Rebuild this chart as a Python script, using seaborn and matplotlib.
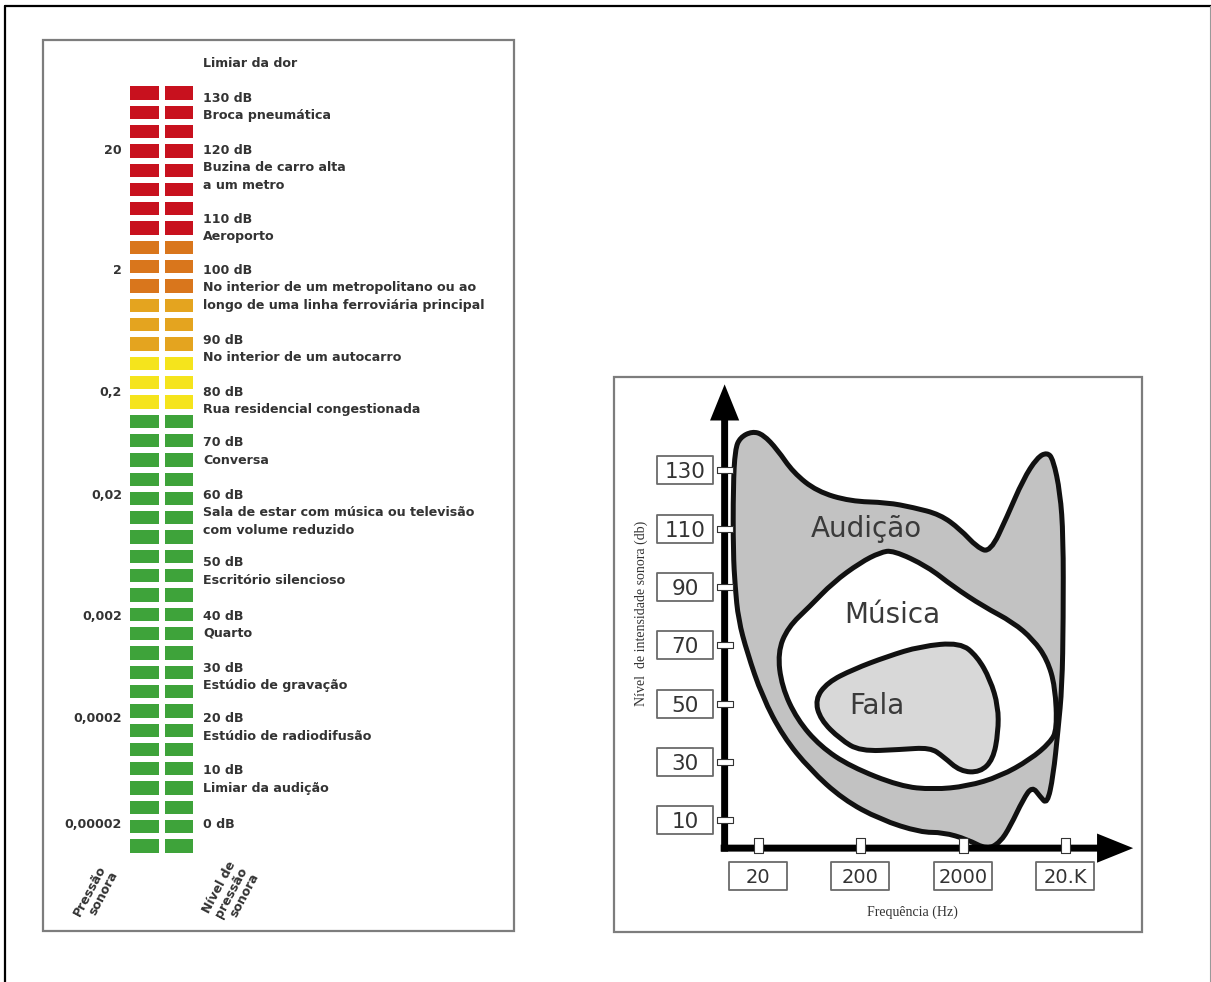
import numpy as np
import pandas as pd
import matplotlib
matplotlib.use("Agg")
import matplotlib.pyplot as plt
import seaborn as sns
from matplotlib.colors import ListedColormap
from matplotlib.patches import Rectangle, PathPatch
from matplotlib.path import Path

# ---------------- data: sound level meter (left) ----------------
meter_levels = ["red"] * 8 + ["orange"] * 3 + ["amber"] * 3 + ["yellow"] * 3 + ["green"] * 23
level_order = ["red", "orange", "amber", "yellow", "green"]
level_colors = ["#c8111e", "#d9761c", "#e4a41f", "#f5e41c", "#3ea33a"]

db_labels = ["130 dB", "120 dB", "110 dB", "100 dB", "90 dB", "80 dB", "70 dB",
             "60 dB", "50 dB", "40 dB", "30 dB", "20 dB", "10 dB", "0 dB"]
db_descriptions = [
    ["Broca pneumática"],
    ["Buzina de carro alta", "a um metro"],
    ["Aeroporto"],
    ["No interior de um metropolitano ou ao", "longo de uma linha ferroviária principal"],
    ["No interior de um autocarro"],
    ["Rua residencial congestionada"],
    ["Conversa"],
    ["Sala de estar com música ou televisão", "com volume reduzido"],
    ["Escritório silencioso"],
    ["Quarto"],
    ["Estúdio de gravação"],
    ["Estúdio de radiodifusão"],
    ["Limiar da audição"],
    [],
]
pressure_labels = ["20", "2", "0,2", "0,02", "0,002", "0,0002", "0,00002"]
pressure_for_db = ["120 dB", "100 dB", "80 dB", "60 dB", "40 dB", "20 dB", "0 dB"]

# ---------------- data: hearing areas (right) ----------------
audicao_hz = [17.5, 22.4, 30.7, 44, 75, 159, 365, 655, 1200, 1890, 2770, 3710, 5430, 7780,
              10670, 13360, 15300, 17900, 19200, 19200, 18700, 17100, 15300, 13360, 11400,
              9540, 7780, 5810, 4640, 3460, 2210, 1290, 770, 312, 135, 64, 35, 21.9, 15.6, 12.8,
              11.9, 11.4, 11.4, 11.9, 13.3]
audicao_db = [143.4, 142.3, 137.2, 129.3, 122.8, 119.4, 119.0, 117.3, 114.9, 109.8, 103.6,
              101.9, 114.2, 126.9, 134.4, 136.2, 133.8, 122.4, 107.4, 78.9, 55.9, 41.2, 25.1,
              15.5, 18.2, 21.7, 17.2, 7.9, 2.5, 0.0, 3.5, 5.9, 5.9, 10.3, 17.2, 27.5, 38.8, 52.5,
              67.6, 78.9, 90.2, 101.9, 124.5, 137.2, 141.3]
musica_hz = [418, 900, 1610, 3170, 6220, 9750, 13360, 16000, 16700, 14300, 9120, 4640, 2210,
             1030, 489, 159, 81, 48, 34, 31, 39, 64, 108, 199, 312]
musica_db = [102.6, 97.1, 90.2, 83.4, 77.9, 72.0, 65.2, 55.9, 41.2, 36.7, 30.9, 25.1, 21.7,
             20.6, 21.7, 28.5, 35.4, 44.6, 55.9, 67.6, 76.2, 83.4, 91.6, 98.4, 101.9]
fala_hz = [95, 170, 365, 770, 1890, 2770, 3710, 4440, 4440, 3960, 2960, 1890, 1290, 960, 489,
           199, 127, 81, 72]
fala_db = [57.3, 61.8, 66.2, 69.7, 71.0, 66.2, 58.3, 49.1, 40.2, 30.9, 26.5, 26.8, 31.9, 35.0,
           34.3, 33.7, 37.8, 44.6, 51.5]

y_ticks = [10, 30, 50, 70, 90, 110, 130]
x_ticks = [20, 200, 2000, 20000]
x_ticklabels = ["20", "200", "2000", "20.K"]

# ---------------- figure ----------------
sns.set_theme(style="white")
plt.rcParams["font.family"] = ["DejaVu Sans"]

W, H = 1211, 982
fig = plt.figure(figsize=(W / 100, H / 100), dpi=100)


def px_axes(x0, y0, x1, y1):
    return fig.add_axes([x0 / W, 1 - y1 / H, (x1 - x0) / W, (y1 - y0) / H])


def smooth_outline(ax, xs, ys, **kw):
    """Closed outline drawn as quadratic Bezier path using the points as control points."""
    n = len(xs)
    lx = np.log10(np.asarray(xs, float))
    ys = np.asarray(ys, float)
    mids = [(10 ** ((lx[i] + lx[(i + 1) % n]) / 2), (ys[i] + ys[(i + 1) % n]) / 2)
            for i in range(n)]
    verts = [mids[-1]]
    codes = [Path.MOVETO]
    for i in range(n):
        verts += [(xs[i], ys[i]), mids[i]]
        codes += [Path.CURVE3, Path.CURVE3]
    verts.append(mids[-1])
    codes.append(Path.CLOSEPOLY)
    patch = PathPatch(Path(verts, codes), transform=ax.transData, **kw)
    ax.add_patch(patch)
    return patch


bg = fig.add_axes([0, 0, 1, 1], zorder=0)
bg.set_xlim(0, W)
bg.set_ylim(H, 0)
bg.axis("off")

# outer frame
bg.plot([5, 5], [6, H], color="black", lw=1.6)
bg.plot([5, W], [6, 6], color="black", lw=1.6)
bg.plot([1209.5, 1209.5], [6, H], color="#999999", lw=0.8)

# panel frames
bg.add_patch(Rectangle((43, 40), 471, 891, fill=False, ec="#7d7d7d", lw=1.6))
bg.add_patch(Rectangle((614, 377), 528, 555, fill=False, ec="#7d7d7d", lw=1.6))

# ---------------- left: meter via heatmap ----------------
codes_arr = np.array([level_order.index(c) for c in meter_levels])
meter = pd.DataFrame({"esq": codes_arr, "dir": codes_arr})
axm = px_axes(127.25, 83.3, 195.75, 855.7)
axm.set_zorder(1)
sns.heatmap(meter, ax=axm, cmap=ListedColormap(level_colors), vmin=-0.5, vmax=4.5,
            cbar=False, linewidths=4, linecolor="white", xticklabels=False, yticklabels=False)

label_y_px = [98, 150, 219, 270, 340, 392, 443, 495, 563, 616, 668, 719, 771, 824]
tkw = dict(fontsize=9.1, fontweight="bold", color="#333333", va="center")
bg.text(203, 63, "Limiar da dor", ha="left", **tkw)
for lab, desc, y in zip(db_labels, db_descriptions, label_y_px):
    bg.text(203, y, lab, ha="left", **tkw)
    for k, line in enumerate(desc):
        bg.text(203, y + 17.5 * (k + 1), line, ha="left", **tkw)
for p, d in zip(pressure_labels, pressure_for_db):
    y = label_y_px[db_labels.index(d)]
    bg.text(122, y, p, ha="right", **tkw)

bg.text(96, 894, "Pressão\nsonora", rotation=62, ha="center", va="center",
        multialignment="right", fontsize=9, fontweight="bold", color="#333333", linespacing=1.0)
bg.text(231, 893, "Nível de\npressão\nsonora", rotation=62, ha="center", va="center",
        multialignment="right", fontsize=9, fontweight="bold", color="#333333", linespacing=1.0)

# ---------------- right: hearing chart ----------------
axc = px_axes(700, 380, 1140, 870)
axc.set_zorder(1)
axc.set_xscale("log")
axc.set_xlim(5.4, 108000)
axc.set_ylim(-7, 161)
axc.axis("off")

smooth_outline(axc, audicao_hz, audicao_db, facecolor="#c2c2c2", edgecolor="#111111",
               lw=3.6, joinstyle="round", zorder=2)
smooth_outline(axc, musica_hz, musica_db, facecolor="white", edgecolor="#111111",
               lw=3.6, joinstyle="round", zorder=3)
smooth_outline(axc, fala_hz, fala_db, facecolor="#d8d8d8", edgecolor="#111111",
               lw=3.6, joinstyle="round", zorder=4)

# axes arrows
ax_x0, ax_y0 = 9.4, 0.5
axc.annotate("", xy=(ax_x0, 159.5), xytext=(ax_x0, -0.7),
             arrowprops=dict(width=5, headwidth=21, headlength=26, facecolor="black",
                             edgecolor="none", shrink=0), zorder=6)
axc.annotate("", xy=(92600, ax_y0), xytext=(8.6, ax_y0),
             arrowprops=dict(width=5, headwidth=21, headlength=26, facecolor="black",
                             edgecolor="none", shrink=0), zorder=6)

ytick_marker = Path([(-1, -0.375), (1, -0.375), (1, 0.375), (-1, 0.375), (-1, -0.375)],
                    [1, 2, 2, 2, 79])
xtick_marker = Path([(-0.6, -1), (0.6, -1), (0.6, 1), (-0.6, 1), (-0.6, -1)],
                    [1, 2, 2, 2, 79])
axc.plot([ax_x0] * len(y_ticks), y_ticks, ls="none", marker=ytick_marker, ms=11.5,
         mfc="white", mec="#333333", mew=0.8, zorder=7, clip_on=False)
axc.plot(x_ticks, [1.4] * len(x_ticks), ls="none", marker=xtick_marker, ms=10.8,
         mfc="white", mec="#333333", mew=0.8, zorder=7, clip_on=False)

ybox = Path([(-1, -0.518), (1, -0.518), (1, 0.518), (-1, 0.518), (-1, -0.518)], [1, 2, 2, 2, 79])
xbox = Path([(-1, -0.483), (1, -0.483), (1, 0.483), (-1, 0.483), (-1, -0.483)], [1, 2, 2, 2, 79])
ytr = axc.get_yaxis_transform()
xtr = axc.get_xaxis_transform()
ybox_x = -0.034
xbox_y = -0.0122
axc.plot([ybox_x] * len(y_ticks), y_ticks, ls="none", marker=ybox, ms=40.3, mfc="white",
         mec="#6a6a6a", mew=1.3, transform=ytr, clip_on=False, zorder=5)
for v in y_ticks:
    axc.text(ybox_x, v, str(v), transform=ytr, ha="center", va="center_baseline",
             fontsize=15.5, color="#333333", zorder=8)
axc.plot(x_ticks, [xbox_y] * len(x_ticks), ls="none", marker=xbox, ms=41.8, mfc="white",
         mec="#6a6a6a", mew=1.3, transform=xtr, clip_on=False, zorder=5)
for v, lab in zip(x_ticks, x_ticklabels):
    axc.text(v, xbox_y, lab, transform=xtr, ha="center", va="center_baseline",
             fontsize=14, color="#333333", zorder=8)

# area labels
axc.text(227, 109.8, "Audição", ha="center", va="center", fontsize=20, color="#3a3a3a", zorder=9)
axc.text(408, 80.3, "Música", ha="center", va="center", fontsize=20, color="#3a3a3a", zorder=9)
axc.text(291, 49.1, "Fala", ha="center", va="center", fontsize=20, color="#3a3a3a", zorder=9)

# axis titles
bg.text(641, 613, "Nível  de intensidade sonora (db)", rotation=90, ha="center", va="center",
        fontfamily="Liberation Serif", fontsize=10, color="#333333")
bg.text(912, 912, "Frequência (Hz)", ha="center", va="center",
        fontfamily="Liberation Serif", fontsize=10, color="#333333")

fig.savefig("out.png", dpi=100)
